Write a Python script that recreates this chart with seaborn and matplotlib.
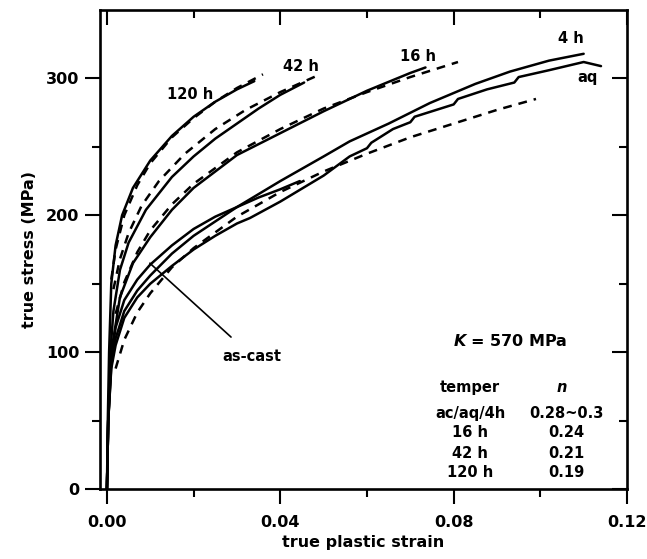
import numpy as np
import pandas as pd
import matplotlib
matplotlib.use("Agg")
import matplotlib.pyplot as plt
import seaborn as sns

# --- measured curves (solid) ---
strain_120h = [0, 0.0002, 0.0005, 0.001, 0.002, 0.0035, 0.006, 0.01, 0.015, 0.02, 0.025, 0.03, 0.034]
stress_120h = [0, 50, 100, 150, 178, 200, 220, 240, 258, 272, 283, 292, 298]

strain_42h = [0, 0.0003, 0.0008, 0.0015, 0.003, 0.005, 0.009, 0.015, 0.02, 0.025, 0.03, 0.035, 0.04, 0.0455]
stress_42h = [0, 50, 100, 130, 160, 180, 204, 228, 243, 256, 267, 278, 288, 297]

strain_16h = [0, 0.0003, 0.001, 0.003, 0.006, 0.01, 0.015, 0.02, 0.03, 0.04, 0.05, 0.06, 0.07, 0.0735]
stress_16h = [0, 50, 100, 140, 165, 184, 204, 220, 244, 260, 276, 291, 304, 308]

strain_ac = [0, 0.0003, 0.001, 0.002, 0.004, 0.007, 0.01, 0.015, 0.02, 0.025, 0.03, 0.035, 0.04, 0.0445]
stress_ac = [0, 50, 95, 118, 138, 153, 164, 178, 190, 199, 206, 213, 219, 225]

strain_4h = [0, 0.0003, 0.001, 0.002, 0.004, 0.007, 0.01, 0.015, 0.02, 0.03, 0.04, 0.05, 0.056,
             0.065, 0.0745, 0.085, 0.093, 0.102, 0.11]
stress_4h = [0, 50, 90, 110, 130, 145, 156, 172, 185, 206, 225, 243, 254,
             267, 282, 296, 305, 313, 318]

strain_aq = [0, 0.0003, 0.001, 0.002, 0.004, 0.007, 0.01, 0.015, 0.02, 0.025, 0.03, 0.033, 0.04,
             0.05, 0.056, 0.06, 0.061, 0.066, 0.07, 0.071, 0.076, 0.08, 0.081, 0.0877,
             0.094, 0.095, 0.102, 0.11, 0.114]
stress_aq = [0, 50, 88, 105, 125, 140, 150, 163, 175, 185, 194, 198, 210,
             229, 243, 249, 253, 263, 268, 272, 277, 281, 285, 292,
             297, 301, 306, 312, 309]

# --- Hollomon fits (dashed), K = 570 MPa ---
fit_strain_30 = [0.002, 0.004, 0.007, 0.01, 0.015, 0.02, 0.03, 0.04, 0.05, 0.06, 0.07, 0.08, 0.09, 0.099]
fit_stress_30 = [88, 109, 129, 143, 162, 176, 199, 217, 232, 245, 257, 267, 277, 285]

fit_strain_24 = [0.002, 0.004, 0.007, 0.01, 0.015, 0.02, 0.03, 0.04, 0.05, 0.06, 0.07, 0.081]
fit_stress_24 = [128, 151, 173, 189, 208, 223, 246, 263, 278, 290, 301, 312]

fit_strain_21 = [0.0015, 0.003, 0.005, 0.008, 0.012, 0.018, 0.025, 0.032, 0.04, 0.0485]
fit_stress_21 = [146, 168, 187, 207, 225, 245, 263, 277, 290, 302]

fit_strain_19 = [0.001, 0.002, 0.004, 0.007, 0.01, 0.015, 0.02, 0.025, 0.03, 0.036]
fit_stress_19 = [153, 175, 200, 222, 238, 257, 271, 283, 293, 303]

temper_rows = ["ac/aq/4h", "16 h", "42 h", "120 h"]
n_values = ["0.28~0.3", "0.24", "0.21", "0.19"]

x_major = [0, 0.04, 0.08, 0.12]
x_minor = [0.02, 0.06, 0.10]
y_major = [0, 100, 200, 300]
y_minor = [50, 150, 250]

sns.set_style("ticks")
plt.rcParams['font.family'] = ['DejaVu Sans']
plt.rcParams['font.weight'] = 'bold'
plt.rcParams['axes.labelweight'] = 'bold'
plt.rcParams['mathtext.fontset'] = 'dejavusans'
for k in ['axes.edgecolor', 'xtick.color', 'ytick.color', 'text.color', 'axes.labelcolor']:
    plt.rcParams[k] = 'black'

fig = plt.figure(figsize=(6.47, 5.59), dpi=100)
pos = [100 / 647, 70 / 559, 527 / 647, 479 / 559]
ax = fig.add_axes(pos)

solid = [(strain_120h, stress_120h), (strain_42h, stress_42h), (strain_16h, stress_16h),
         (strain_ac, stress_ac), (strain_4h, stress_4h), (strain_aq, stress_aq)]
for xs, ys in solid:
    sns.lineplot(x=xs, y=ys, ax=ax, color='black', lw=1.8, sort=False, estimator=None)

dashed = [(fit_strain_30, fit_stress_30), (fit_strain_24, fit_stress_24),
          (fit_strain_21, fit_stress_21), (fit_strain_19, fit_stress_19)]
for xs, ys in dashed:
    sns.lineplot(x=xs, y=ys, ax=ax, color='black', lw=1.8, sort=False, estimator=None,
                 linestyle=(0, (3.5, 2.8)))

ax.set_xlim(-0.0016, 0.12)
ax.set_ylim(0, 350)
ax.set_xticks(x_major)
ax.set_xticklabels(["0.00", "0.04", "0.08", "0.12"])
ax.set_xticks(x_minor, minor=True)
ax.set_yticks(y_major)
ax.set_yticks(y_minor, minor=True)

for s in ax.spines.values():
    s.set_visible(True)
    s.set_linewidth(1.9)
ax.tick_params(axis='both', which='major', length=11, width=1.5, labelsize=11.5)
ax.tick_params(axis='both', which='minor', length=6, width=1.5)
ax.tick_params(axis='x', which='major', pad=8)
ax.tick_params(axis='y', which='major', pad=4)

# inward ticks on top / right via a frameless overlay
axt = fig.add_axes(pos, frameon=False)
axt.set_xlim(ax.get_xlim())
axt.set_ylim(ax.get_ylim())
axt.set_xticks(x_major)
axt.set_xticks(x_minor, minor=True)
axt.set_yticks(y_major)
axt.set_yticks(y_minor, minor=True)
axt.tick_params(which='both', direction='in', width=1.5, top=True, right=True,
                bottom=False, left=False, labelbottom=False, labelleft=False,
                labeltop=False, labelright=False)
axt.tick_params(which='major', length=11)
axt.tick_params(which='minor', length=6)
axt.patch.set_visible(False)

ax.set_xlabel("true plastic strain", fontsize=11.5, fontweight='bold', labelpad=3)
ax.set_ylabel("true stress (MPa)", fontsize=11.5, fontweight='bold', labelpad=6)

fs = 10.5
ax.text(0.0192, 288, "120 h", ha='center', va='center', fontsize=fs)
ax.text(0.0448, 309, "42 h", ha='center', va='center', fontsize=fs)
ax.text(0.0718, 316, "16 h", ha='center', va='center', fontsize=fs)
ax.text(0.107, 329, "4 h", ha='center', va='center', fontsize=fs)
ax.text(0.1108, 301, "aq", ha='center', va='center', fontsize=fs)
ax.annotate("as-cast", xy=(0.0099, 165), xytext=(0.0335, 97), ha='center', va='center',
            fontsize=fs, arrowprops=dict(arrowstyle='-', color='black', lw=1.2,
                                         shrinkA=9, shrinkB=0))

ax.text(0.093, 108, "$\\boldsymbol{K}$ = 570 MPa", ha='center', va='center', fontsize=11.5)
ax.text(0.0838, 74, "temper", ha='center', va='center', fontsize=10.5)
ax.text(0.1050, 74, "n", ha='center', va='center', fontsize=10.5, style='italic')
row_y = [55, 41, 26, 12]
for t, n, yv in zip(temper_rows, n_values, row_y):
    ax.text(0.0838, yv, t, ha='center', va='center', fontsize=10.5)
    ax.text(0.1060, yv, n, ha='center', va='center', fontsize=10.5)

fig.savefig("out.png", dpi=100)
